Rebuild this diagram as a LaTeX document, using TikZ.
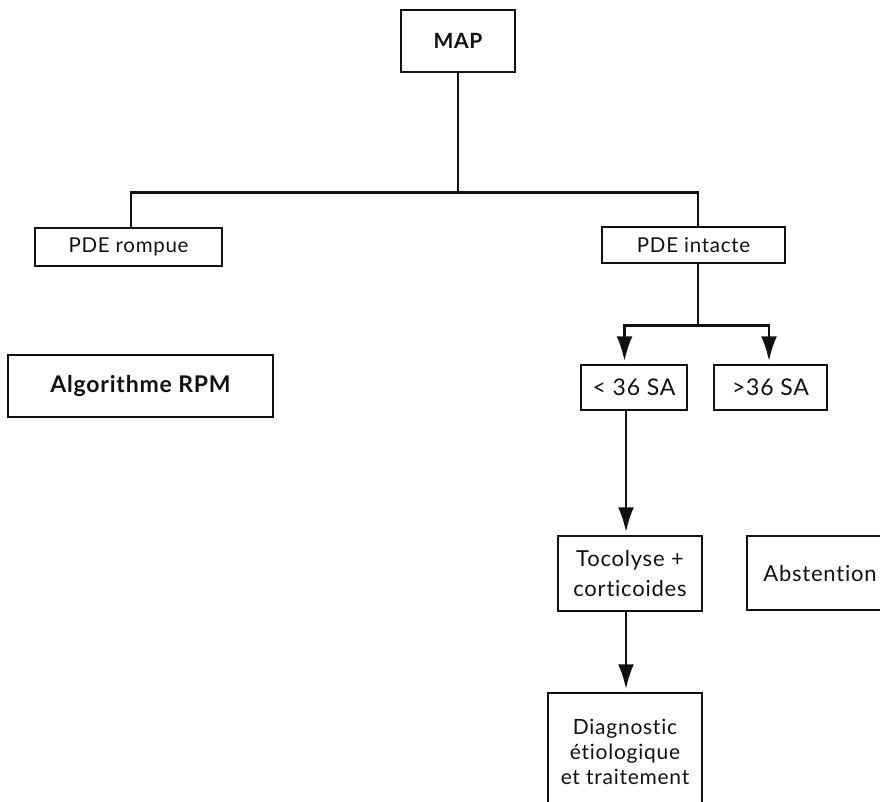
\documentclass[tikz,border=0pt]{standalone}
\usepackage{fontspec}
\setmainfont{Lato}[Ligatures={NoCommon,NoRare}]
\newfontfamily\spaced{Lato}[LetterSpace=3.5, Ligatures={NoCommon,NoRare}]
\usepackage{xcolor}
\usepackage{tikz}
\usetikzlibrary{arrows.meta}
\definecolor{ink}{HTML}{111111}
\tikzset{
  box/.style={draw=ink, line width=1.5pt, inner sep=0pt, align=center, text=ink,
    font=\spaced\fontsize{20.5}{25}\selectfont},
  wbox/.style={box, font=\spaced\fontsize{#1}{30}\selectfont},
  boldbox/.style={box, font=\spaced\fontsize{#1}{26}\selectfont\bfseries},
  tree/.style={draw=ink, line width=2.4pt},
  bar/.style={draw=ink, line width=3pt},
  arr/.style={draw=ink, line width=2.8pt, -{Latex[length=25pt,width=16pt]}, shorten >=3pt}
}

\begin{document}
\begin{tikzpicture}[x=1pt,y=-1pt]
  \useasboundingbox (0,0) rectangle (880,802);
  \clip (0,0) rectangle (880,802);

  \node[boldbox=21, minimum width=114pt, minimum height=62pt] (map) at (458,41) {MAP};
  \node[box, minimum width=187pt, minimum height=38pt] (rompue) at (128.5,247) {PDE rompue};
  \node[box, minimum width=183pt, minimum height=36pt] (intacte) at (693.5,245) {PDE intacte};
  \node[boldbox=23, minimum width=265pt, minimum height=62pt] (algo) at (140.5,386) {Algorithme RPM};
  \node[wbox=23, minimum width=106pt, minimum height=45pt] (lt36) at (634,387.5) {< 36 SA};
  \node[wbox=23, minimum width=113pt, minimum height=45pt] (gt36) at (770.5,387.5) {>36 SA};
  \node[wbox=22, minimum width=144pt, minimum height=75pt] (toco) at (630,573.5) {Tocolyse +\\corticoides};
  \node[wbox=22, minimum width=146pt, minimum height=74pt] (abst) at (820,573) {Abstention};
  \node[box, font=\spaced\fontsize{21}{25}\selectfont, minimum width=154pt, minimum height=117pt] (diag) at (625,751.5) {Diagnostic\\étiologique\\et traitement};

  \coordinate (split) at (458,193);
  \coordinate (fork) at (698,325);

  \draw[tree] (map.south) -- (split);
  \draw[tree] ([xshift=2.5pt]rompue.north) -- ([xshift=2.5pt]rompue.north |- split);
  \draw[tree] ([xshift=4.5pt]intacte.north) -- ([xshift=4.5pt]intacte.north |- split);
  \draw[bar] ([xshift=1.3pt]rompue.north |- split) -- ([xshift=5.7pt]intacte.north |- split);

  \draw[tree] ([xshift=4.5pt]intacte.south) -- (fork);
  \draw[bar] ([xshift=-10.9pt]lt36.north |- fork) -- ([xshift=-0.1pt]gt36.north |- fork);
  \draw[arr] ([xshift=-9.5pt]lt36.north |- fork) -- ([xshift=-9.5pt]lt36.north);
  \draw[arr] ([xshift=-1.5pt]gt36.north |- fork) -- ([xshift=-1.5pt]gt36.north);
  \draw[arr] ([xshift=-8pt]lt36.south) -- ([xshift=-8pt]lt36.south |- toco.north);
  \draw[arr] ([xshift=-4pt]toco.south) -- ([xshift=-4pt]toco.south |- diag.north);
\end{tikzpicture}
\end{document}
